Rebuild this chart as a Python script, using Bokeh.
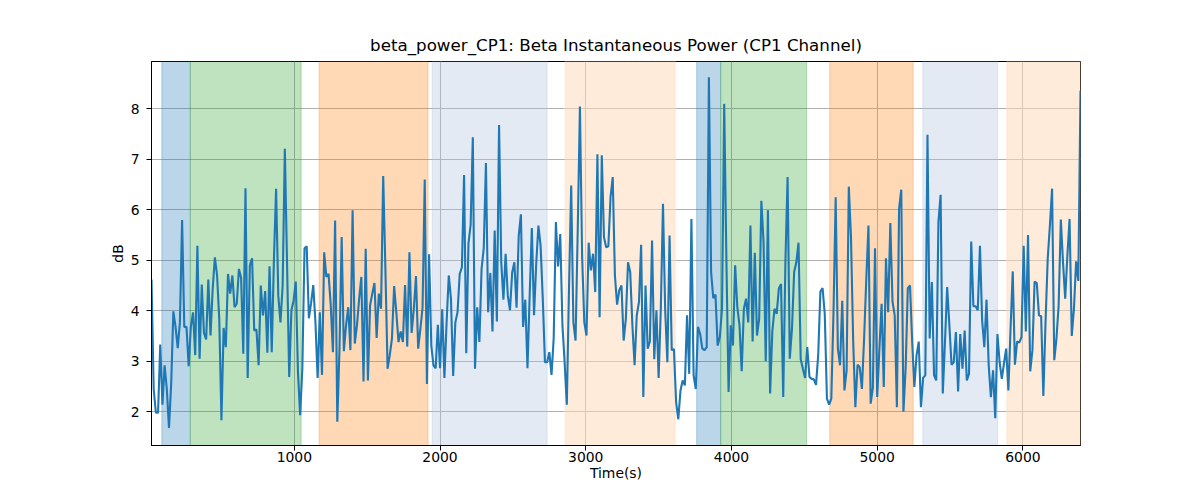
import numpy as np
from bokeh.plotting import figure
from bokeh.models import Range1d, FixedTicker
from bokeh.embed import file_html
from bokeh.resources import INLINE

# ---- data ----
T_START = 20.0
T_STEP = 15.0

power_db = [
    4.62, 2.45, 1.98, 1.98, 3.33, 2.14, 2.92, 2.45, 1.68, 2.55,
    3.99, 3.68, 3.26, 3.77, 5.80, 3.68, 3.68, 2.90, 3.68, 3.97,
    3.12, 5.29, 3.05, 4.52, 3.56, 3.43, 4.62, 3.51, 4.44, 5.06,
    4.70, 3.84, 1.83, 3.66, 3.28, 4.73, 4.34, 4.70, 4.07, 4.14,
    4.83, 4.65, 3.15, 6.43, 2.67, 4.90, 5.04, 3.61, 3.63, 2.92,
    4.50, 3.91, 4.39, 3.17, 4.88, 3.18, 5.00, 6.42, 4.30, 3.77,
    4.50, 7.21, 4.96, 2.69, 4.01, 4.20, 4.58, 2.79, 1.93, 2.85,
    5.24, 5.28,
    3.85, 4.15, 4.51, 3.77, 2.67, 3.97, 2.73, 5.16, 4.67, 4.73,
    4.11, 3.18, 5.79, 1.80, 3.25, 5.46, 3.20, 3.71, 4.07, 3.22,
    5.99, 3.35, 3.71, 4.24, 4.67, 2.60, 5.23, 2.62, 4.11, 4.34,
    4.55, 3.46, 4.34, 4.04, 6.67, 4.83, 2.85, 3.12, 3.45, 4.49,
    3.97, 3.38, 3.59, 3.38, 4.51, 3.29, 5.16, 3.56, 4.03, 4.69,
    3.25, 3.64, 4.06, 6.60, 2.55, 5.12, 3.31, 2.92, 2.86, 3.72,
    2.86, 4.03, 2.67, 3.77, 4.70, 4.24, 2.71, 3.77, 3.97, 4.73,
    4.86, 6.69, 3.16, 5.33, 5.70, 7.44, 2.85, 4.07, 3.38, 4.83,
    5.24, 6.93, 3.97, 4.75, 3.59, 5.59, 3.79, 7.68, 4.96, 4.22,
    5.13, 4.30, 4.01, 4.76, 4.96, 4.06, 5.49, 5.91, 3.68, 4.22,
    2.86, 4.30, 5.64, 3.91, 4.93, 5.69, 5.29, 4.24, 2.98, 2.98,
    3.18, 2.73, 3.46, 5.76, 4.88, 5.52, 3.71, 2.98, 2.14, 4.44,
    6.48, 3.77, 3.41, 5.62, 8.05, 5.08, 3.77, 3.51, 5.35, 4.80,
    5.13, 4.37, 7.10, 3.87, 7.08, 5.46, 5.26, 5.28, 6.25, 6.65,
    4.70,
    4.12, 4.41, 4.50, 3.41, 3.84, 4.96, 4.77, 3.71, 2.92, 3.91,
    4.17, 5.31, 2.29, 4.50, 3.25, 3.39, 5.39, 3.04, 4.01, 2.67,
    4.04, 6.12, 4.01, 2.98, 5.49, 3.22, 3.24, 2.19, 1.85, 2.42,
    2.62, 2.52, 3.91, 2.75, 5.82, 2.72, 2.45, 3.68, 3.54, 3.25,
    3.22, 3.28, 8.63, 4.77, 4.25, 4.32, 3.31, 3.48, 4.04, 8.10,
    5.02, 2.39, 3.71, 3.31, 4.90, 4.07, 3.71, 2.80, 4.04, 4.24,
    3.77, 5.69, 3.39, 5.15, 3.51, 3.84, 6.18, 5.36, 3.00, 5.99,
    2.36,
    3.58, 4.04, 3.94, 4.44, 4.53, 2.29, 4.96, 6.65, 3.05, 3.64,
    4.77, 4.96, 5.35, 3.04, 2.85, 2.67, 3.28, 2.69, 2.65, 2.64,
    2.53, 3.12, 4.38, 4.45, 3.94, 2.26, 2.14, 2.26, 3.97, 6.25,
    3.25, 2.92, 4.20, 2.42, 2.82, 6.46, 5.46, 3.41, 2.09, 2.93,
    2.88, 2.45, 3.45, 4.63, 5.69, 2.16, 2.47, 5.24, 2.29, 3.25,
    4.14, 2.49, 5.04, 3.97, 5.74, 4.18, 3.91, 2.09, 6.02, 6.40,
    2.00, 2.86, 4.45, 4.50, 3.38, 2.49, 3.12, 3.39, 2.09, 2.67,
    2.72,
    7.49, 3.45, 4.57, 2.72, 2.62, 5.76, 6.30, 2.36, 3.38, 4.47,
    3.72, 2.93, 2.98, 3.58, 2.40, 3.54, 2.85, 3.61, 2.62, 2.75,
    5.37, 4.09, 4.09, 4.01, 5.29, 3.81, 3.28, 4.22, 2.92, 2.29,
    2.82, 1.87, 3.54, 2.98, 2.65, 2.96, 3.25, 2.42, 3.64, 4.78,
    2.93, 3.39, 3.37, 3.48, 5.29, 3.59, 5.50, 2.80, 3.22, 4.58,
    4.55, 3.91, 3.89, 2.31, 3.77, 5.03, 5.69, 6.42, 3.02, 3.45,
    4.11, 5.81, 4.96, 4.24, 5.10, 5.82, 3.50, 4.04, 4.98, 4.59,
    8.36,
]
time_s = [T_START + T_STEP * i for i in range(len(power_db))]

span_start = [91, 286, 1170, 1946, 2859, 3761, 3926, 4674, 5313, 5890]
span_end = [286, 1047, 1918, 2735, 3614, 3926, 4515, 5247, 5826, 6420]
span_color = ["#1f77b4", "#2ca02c", "#ff7f0e", "#b0c4de", "#ffdab9",
              "#1f77b4", "#2ca02c", "#ff7f0e", "#b0c4de", "#ffdab9"]
span_alpha = [0.3, 0.3, 0.3, 0.35, 0.55, 0.3, 0.3, 0.3, 0.35, 0.55]

x_ticks = [1000, 2000, 3000, 4000, 5000, 6000]
y_ticks = [2, 3, 4, 5, 6, 7, 8]

FONT = "DejaVu Sans"

p = figure(width=1184, height=484, output_backend="svg", toolbar_location=None,
           x_range=Range1d(time_s[0], time_s[-1]), y_range=Range1d(1.33, 8.94),
           min_border_left=151, min_border_right=104, min_border_top=61,
           min_border_bottom=39,
           title="beta_power_CP1: Beta Instantaneous Power (CP1 Channel)")

p.title.align = "center"
p.title.text_font = FONT
p.title.text_font_size = "16.7px"
p.title.text_font_style = "normal"
p.title.text_color = "black"
p.title.standoff = 13

p.quad(left=span_start, right=span_end,
       bottom=[-100] * len(span_start), top=[100] * len(span_start),
       fill_color=span_color, fill_alpha=span_alpha,
       line_color=span_color, line_alpha=span_alpha, line_width=1)

p.line(time_s, power_db, line_color="#1f77b4", line_width=2.1)

p.xaxis.ticker = FixedTicker(ticks=x_ticks)
p.yaxis.ticker = FixedTicker(ticks=y_ticks)
for ax in (p.xaxis[0], p.yaxis[0]):
    ax.major_label_text_font = FONT
    ax.major_label_text_font_size = "13.9px"
    ax.major_label_text_color = "black"
    ax.axis_label_text_font = FONT
    ax.axis_label_text_font_size = "13.9px"
    ax.axis_label_text_font_style = "normal"
    ax.axis_label_text_color = "black"
    ax.axis_line_color = "black"
    ax.major_tick_line_color = "black"
    ax.major_tick_out = 5
    ax.major_tick_in = 0
    ax.minor_tick_line_color = None
p.xaxis[0].major_label_standoff = 1
p.xaxis[0].axis_label_standoff = 0
p.yaxis[0].major_label_standoff = 7
p.yaxis[0].axis_label_standoff = 2
p.xaxis.axis_label = "Time(s)"
p.yaxis.axis_label = "dB"

p.xgrid.grid_line_color = "#b0b0b0"
p.ygrid.grid_line_color = "#b0b0b0"
p.xgrid.grid_line_width = 1
p.ygrid.grid_line_width = 1

p.outline_line_color = "black"
p.outline_line_width = 1
p.outline_line_alpha = 1
p.background_fill_color = "white"
p.border_fill_color = "white"

open("out.html", "w").write(file_html(p, INLINE))
